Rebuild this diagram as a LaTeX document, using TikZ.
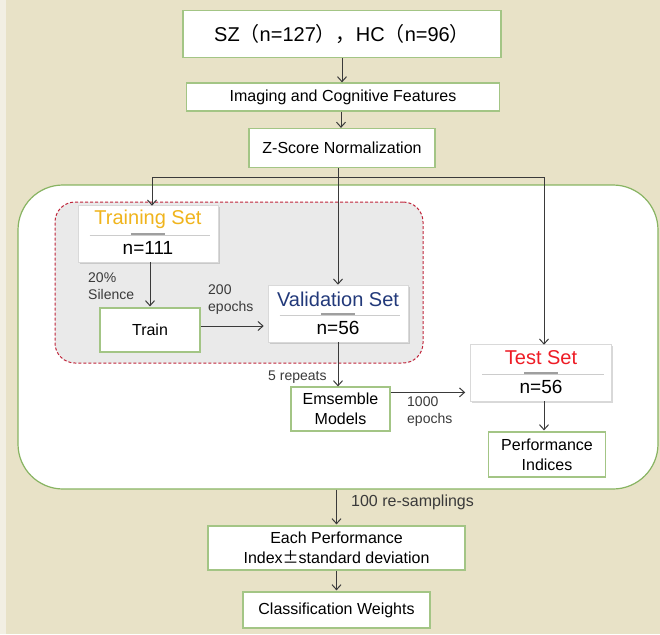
\documentclass[tikz,border=0pt]{standalone}
\usepackage{fontspec}
\setmainfont{Liberation Sans}
\newfontfamily\cjk{Noto Sans CJK SC}
\usetikzlibrary{arrows.meta,shadows,calc}

\definecolor{bgbeige}{HTML}{E8E2C7}
\definecolor{stripbeige}{HTML}{F2EFE3}
\definecolor{boxgreen}{HTML}{A3C585}
\definecolor{biggreen}{HTML}{88B462}
\definecolor{dashred}{HTML}{C0243A}
\definecolor{groupgray}{HTML}{EAEAEA}
\definecolor{linegray}{HTML}{3A3A3A}
\definecolor{trainorange}{HTML}{F0B41C}
\definecolor{valnavy}{HTML}{22397A}
\definecolor{testred}{HTML}{EE1C25}

\begin{document}
\begin{tikzpicture}[x=1pt,y=-1pt,
  arr/.style={draw=linegray, line width=1pt, -{Straight Barb[length=5pt,width=9pt]}},
  plain/.style={draw=linegray, line width=1pt},
  gbox/.style={draw=boxgreen, line width=1.2pt, fill=white, align=center,
    inner sep=0pt, font=\fontsize{16}{20}\selectfont},
  setbox/.style={draw=gray!30, fill=white, line width=0.6pt, inner sep=0pt,
    minimum width=140pt, minimum height=57pt,
    drop shadow={opacity=0.3, shadow xshift=1.5pt, shadow yshift=-1.5pt}},
  settitle/.style={inner sep=0pt, font=\fontsize{20}{24}\selectfont},
  setn/.style={inner sep=0pt, font=\fontsize{19}{23}\selectfont},
  sepline/.style={draw=gray!40, line width=0.8pt},
  sepbar/.style={draw=gray!75, line width=2.6pt},
  lbl/.style={inner sep=0pt, align=left, text=linegray, font=\fontsize{14}{17}\selectfont},
]
\useasboundingbox (0,0) rectangle (660,634);
\fill[bgbeige] (0,0) rectangle (660,634);
\fill[stripbeige] (0,0) rectangle (6,634);

% outer resampling loop
\node[draw=biggreen, fill=white, line width=1.2pt, rounded corners=45pt,
  minimum width=640pt, minimum height=304pt, inner sep=0pt] (outer) at (338,337) {};
% training / validation group
\node[draw=dashred, fill=groupgray, line width=1pt, dash pattern=on 3pt off 2pt,
  rounded corners=20pt, minimum width=368pt, minimum height=161pt, inner sep=0pt] (grp) at (239,282.5) {};

% pipeline boxes
\node[gbox, minimum width=318pt, minimum height=47pt, font=\fontsize{20}{24}\selectfont] (sz) at (342,34)
  {SZ{\cjk （}n=127{\cjk ），}HC{\cjk （}n=96{\cjk ）}};
\node[gbox, minimum width=313pt, minimum height=28pt] (img) at (343,97) {Imaging and Cognitive Features};
\node[gbox, minimum width=186pt, minimum height=39pt] (zs) at (342,148) {Z-Score Normalization};

% data sets
\node[setbox] (trn) at (148,233.5) {};
\node[setbox] (val) at (338,313.5) {};
\node[setbox, minimum width=141pt] (tst) at (541,372.5) {};
\foreach \b/\t/\c/\n in {trn/Training Set/trainorange/111, val/Validation Set/valnavy/56, tst/Test Set/testred/56}{
  \node[settitle, text=\c] (\b T) at ([yshift=14.5pt]\b.center) {\t};
  \node[setn] (\b N) at ([yshift=-14.5pt]\b.center) {n=\n};
  \draw[sepline] ([xshift=12pt,yshift=-2pt]\b.west) -- ([xshift=-8pt,yshift=-2pt]\b.east);
  \draw[sepbar] ([xshift=-17pt,yshift=-0.5pt]\b.center) -- ([xshift=17pt,yshift=-0.5pt]\b.center);
}

\node[gbox, minimum width=100pt, minimum height=44pt] (train) at (150,330) {Train};
\node[gbox, minimum width=99pt, minimum height=44pt] (ens) at (340.5,409) {Emsemble\\Models};
\node[gbox, minimum width=117pt, minimum height=45pt] (perf) at (547,454.5) {Performance\\Indices};
\node[gbox, minimum width=257pt, minimum height=44pt] (each) at (336.5,548) {Each Performance\\Index{\cjk ±}standard deviation};
\node[gbox, minimum width=187pt, minimum height=36pt] (cls) at (336.5,610) {Classification Weights};

% labels
\node[lbl, anchor=west] (lsil) at (88,286) {20\%\\Silence};
\node[lbl, anchor=west] (lep1) at (208,300) {200\\epochs};
\node[lbl, anchor=west] (lrep) at (268,377) {5 repeats};
\node[lbl, anchor=west] (lep2) at (407,412) {1000\\epochs};
\node[inner sep=0pt, anchor=west, text=linegray, font=\fontsize{16}{20}\selectfont] (lres) at (351,502) {100 re-samplings};

% connectors
\coordinate (jl) at (152,177);
\coordinate (jr) at (544,177);
\draw[arr] (sz.south -| img.north) ++(-1,0) -- ([xshift=-1pt]img.north);
\draw[arr] (img.south -| zs.north) ++(-1,0) -- ([xshift=-1pt]zs.north);
\draw[arr] (val.north |- zs.south) -- (val.north);
\draw[plain] (jl) -- (jr);
\draw[arr] (jl) -- ([yshift=-1pt]jl |- trn.north);
\draw[arr] (jr) -- ([yshift=-1pt]jr |- tst.north);
\draw[arr] (train.north |- trn.south) -- ([yshift=1pt]train.north);
\draw[arr] ([yshift=4pt]train.east) -- ([xshift=-4pt,yshift=4pt]train.east -| val.west);
\draw[arr] (val.south) -- (val.south |- ens.north);
\draw[arr] ([yshift=-6pt]ens.north east) -- ([xshift=-5pt,yshift=-6pt]ens.north east -| tst.west);
\draw[arr] (jr |- tst.south) -- ([yshift=1pt]jr |- perf.north);
\draw[arr] (each.north |- outer.south) -- ([yshift=1pt]each.north);
\draw[arr] (each.south) -- ([yshift=1pt]cls.north);
\end{tikzpicture}
\end{document}
